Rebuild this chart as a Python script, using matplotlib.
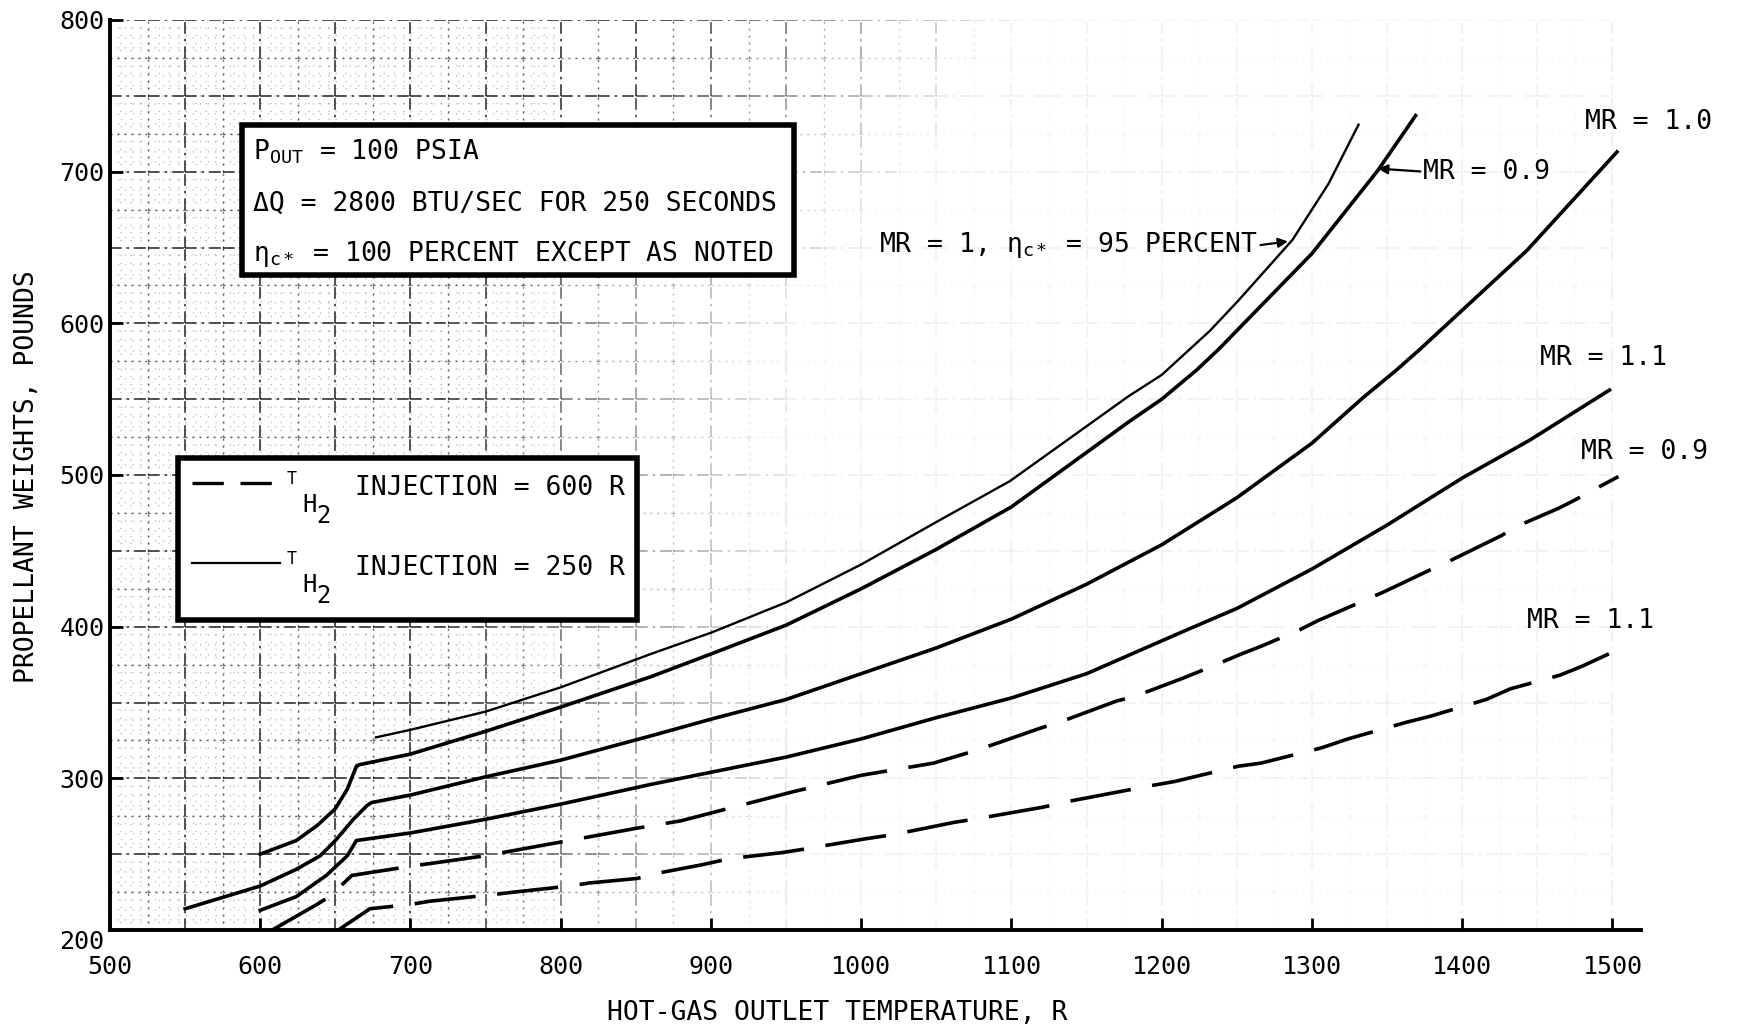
# Propellant weights vs hot-gas outlet temperature (scanned NASA chart redraw)
import numpy as np
import matplotlib.pyplot as plt
from matplotlib.collections import LineCollection
from matplotlib.lines import Line2D
from matplotlib.patches import Rectangle

plt.rcParams['font.family'] = 'DejaVu Sans Mono'
plt.rcParams['mathtext.fontset'] = 'custom'
plt.rcParams['mathtext.rm'] = 'DejaVu Sans Mono'
plt.rcParams['mathtext.it'] = 'DejaVu Sans Mono'
plt.rcParams['mathtext.default'] = 'rm'

# ---------------- data ----------------
# T_H2 injection = 250 R (solid)
x_eta95 = [677, 700, 750, 800, 860, 900, 950, 1000, 1050, 1099, 1178, 1200, 1232, 1251, 1287, 1311, 1331]
w_eta95 = [327, 332, 344, 360, 382, 396, 416, 441, 469, 496, 552, 566, 595, 615, 655, 692, 731]

x_mr09 = [600, 624, 638, 650, 658, 664, 666, 700, 750, 800, 860, 900, 950, 1000, 1050, 1100, 1178, 1200, 1223, 1238, 1300, 1344, 1369]
w_mr09 = [250, 259, 269, 280, 293, 308, 309, 316, 331, 347, 367, 382, 401, 425, 451, 479, 535, 550, 569, 583, 646, 701, 737]

x_mr10 = [550, 600, 624, 640, 650, 662, 671, 674, 700, 750, 800, 860, 900, 950, 1000, 1050, 1100, 1150, 1200, 1250, 1300, 1334, 1356, 1372, 1443, 1503]
w_mr10 = [214, 229, 240, 249, 259, 273, 282, 284, 289, 301, 312, 328, 339, 352, 369, 386, 405, 428, 454, 485, 521, 551, 569, 583, 648, 713]

x_mr11 = [600, 624, 644, 658, 664, 700, 750, 800, 860, 900, 950, 1000, 1050, 1100, 1150, 1217, 1250, 1300, 1350, 1400, 1445, 1498]
w_mr11 = [213, 222, 236, 249, 259, 264, 273, 283, 296, 304, 314, 326, 340, 353, 369, 398, 412, 438, 467, 498, 523, 556]

# T_H2 injection = 600 R (dashed)
x_d09 = [608, 638, 646, 661, 700, 750, 800, 850, 880, 954, 1000, 1048, 1075, 1090, 1119, 1132, 1170, 1182, 1214,
         1229, 1253, 1266, 1292, 1304, 1332, 1348, 1382, 1393, 1426, 1436, 1464, 1474, 1504]
w_d09 = [200, 217, 222, 236, 242, 249, 258, 267, 272, 291, 302, 310, 318, 323, 333, 337, 351, 354, 366,
         372, 382, 387, 398, 404, 416, 423, 439, 444, 460, 466, 478, 483, 499]

x_d11 = [652, 673, 701, 713, 752, 769, 806, 819, 851, 862, 894, 912, 947, 960, 1002, 1022, 1062, 1075, 1121, 1139,
         1192, 1209, 1251, 1266, 1306, 1324, 1363, 1379, 1416, 1432, 1465, 1480, 1504]
w_d11 = [200, 214, 217, 219, 223, 225, 229, 231, 234, 237, 243, 247, 251, 253, 260, 263, 271, 273, 281, 285,
         295, 298, 308, 310, 320, 326, 337, 341, 352, 359, 368, 374, 385]

x_ticks = list(range(500, 1501, 100))
y_ticks = list(range(200, 801, 100))

# ---------------- figure ----------------
W, H = 1739, 1028
fig = plt.figure(figsize=(W / 100, H / 100), dpi=100)
ax = fig.add_axes([110 / W, 1 - 930 / H, 1531 / W, 910 / H])
ax.set_xlim(500, 1519)
ax.set_ylim(200, 800)


def fade(x, y):
    # graph paper prints strongly in the upper left and fades to the lower right
    a = 1.0 - max(0.0, x - 720) / 260 + max(0.0, y - 600) / 350
    return min(1.0, max(0.07, a))


def grid_layer(step, skip, ls, lw, scale, xmax=1500):
    segs, cols = [], []
    for gx in np.arange(500 + step, xmax + 0.1, step):
        if skip and gx % skip == 0:
            continue
        for y0 in range(200, 800, 25):
            segs.append([(gx, y0), (gx, y0 + 25)])
            cols.append((0, 0, 0, fade(gx, y0 + 12.5) * scale))
    for gy in np.arange(200 + step, 800.1, step):
        if skip and gy % skip == 0:
            continue
        for x0 in range(500, int(xmax), 25):
            segs.append([(x0, gy), (x0 + 25, gy)])
            cols.append((0, 0, 0, fade(x0 + 12.5, gy) * scale))
    ax.add_collection(LineCollection(segs, colors=cols, linewidths=lw, linestyles=ls, zorder=1))


grid_layer(5, 25, (0, (1, 7)), 0.9, 0.3, xmax=800)
grid_layer(25, 50, (0, (1.5, 3.5)), 1.0, 0.6)
grid_layer(50, None, (0, (7, 3, 1.5, 3)), 1.2, 0.8)

# curves
thick, thin = 2.6, 1.7
dash = (0, (17, 6))
ax.plot(x_eta95, w_eta95, color='k', lw=thin, zorder=3)
ax.plot(x_mr09, w_mr09, color='k', lw=thick, zorder=3)
ax.plot(x_mr10, w_mr10, color='k', lw=thick, zorder=3)
ax.plot(x_mr11, w_mr11, color='k', lw=thick, zorder=3)
ax.plot(x_d09, w_d09, color='k', lw=thick, ls=dash, zorder=3)
ax.plot(x_d11, w_d11, color='k', lw=thick, ls=dash, zorder=3)

# axes styling
for s in ['top', 'right']:
    ax.spines[s].set_visible(False)
for s in ['left', 'bottom']:
    ax.spines[s].set_linewidth(2.8)
ax.set_xticks(x_ticks)
ax.set_yticks(y_ticks)
ax.tick_params(direction='in', length=9, width=2, labelsize=18)
ax.tick_params(axis='x', pad=18)
ax.tick_params(axis='y', pad=4)
ax.yaxis.get_major_ticks()[0].label1.set_verticalalignment('top')

ax.set_xlabel('HOT-GAS OUTLET TEMPERATURE, R', fontsize=19)
ax.xaxis.set_label_coords(0.475, -0.077)
ax.set_ylabel('PROPELLANT WEIGHTS, POUNDS', fontsize=19)
ax.yaxis.set_label_coords(-0.0457, 0.498)

# curve labels
fs = 19
arrow = dict(arrowstyle='-|>', color='k', lw=1.6, mutation_scale=14, shrinkA=0, shrinkB=0)
ax.text(1482, 735, 'MR = 1.0', fontsize=fs, va='center_baseline')
ax.annotate('MR = 0.9', xy=(1344, 702), xytext=(1374, 702), fontsize=fs, va='center_baseline',
            arrowprops=dict(arrow, relpos=(0, 0.5)))
ax.annotate(r'MR = 1, $\eta_{c*}$ = 95 PERCENT', xy=(1284, 654), xytext=(1012, 654), fontsize=fs,
            va='center_baseline', arrowprops=dict(arrow, relpos=(1, 0.5)))
ax.text(1452, 579, 'MR = 1.1', fontsize=fs, va='center_baseline')
ax.text(1479, 517, 'MR = 0.9', fontsize=fs, va='center_baseline')
ax.text(1443, 406, 'MR = 1.1', fontsize=fs, va='center_baseline')


def fpx(X, Y):
    # figure pixel (from top-left) -> figure fraction
    return X / W, 1 - Y / H


# condition box
fig.add_artist(Rectangle(fpx(242, 275), 552 / W, 150 / H, transform=fig.transFigure,
                         facecolor='white', edgecolor='k', lw=4))
fig.text(*fpx(253, 160), r'P$_{\mathregular{OUT}}$ = 100 PSIA', fontsize=19, va='baseline')
fig.text(*fpx(253, 211), 'ΔQ = 2800 BTU/SEC FOR 250 SECONDS', fontsize=19, va='baseline')
fig.text(*fpx(253, 261), r'$\eta_{c*}$ = 100 PERCENT EXCEPT AS NOTED', fontsize=19, va='baseline')

# key box (line styles)
fig.add_artist(Rectangle(fpx(178, 620), 459 / W, 162 / H, transform=fig.transFigure,
                         facecolor='white', edgecolor='k', lw=4))
keys = [('600 R', (0, (9.4, 5.0)), 2.4, 495), ('250 R', '-', 1.6, 575)]
for temp, style, lw, base in keys:
    xs, ys = zip(fpx(192, base - 12), fpx(280, base - 12))
    fig.add_artist(Line2D(xs, ys, color='k', lw=lw, ls=style, transform=fig.transFigure))
    fig.text(*fpx(287, base - 11), 'T', fontsize=12, va='baseline')
    fig.text(*fpx(302, base + 17), 'H', fontsize=17, va='baseline')
    fig.text(*fpx(316, base + 28), '2', fontsize=17, va='baseline')
    fig.text(*fpx(355, base), 'INJECTION = ' + temp, fontsize=19, va='baseline')

fig.savefig('out.png', dpi=100)
